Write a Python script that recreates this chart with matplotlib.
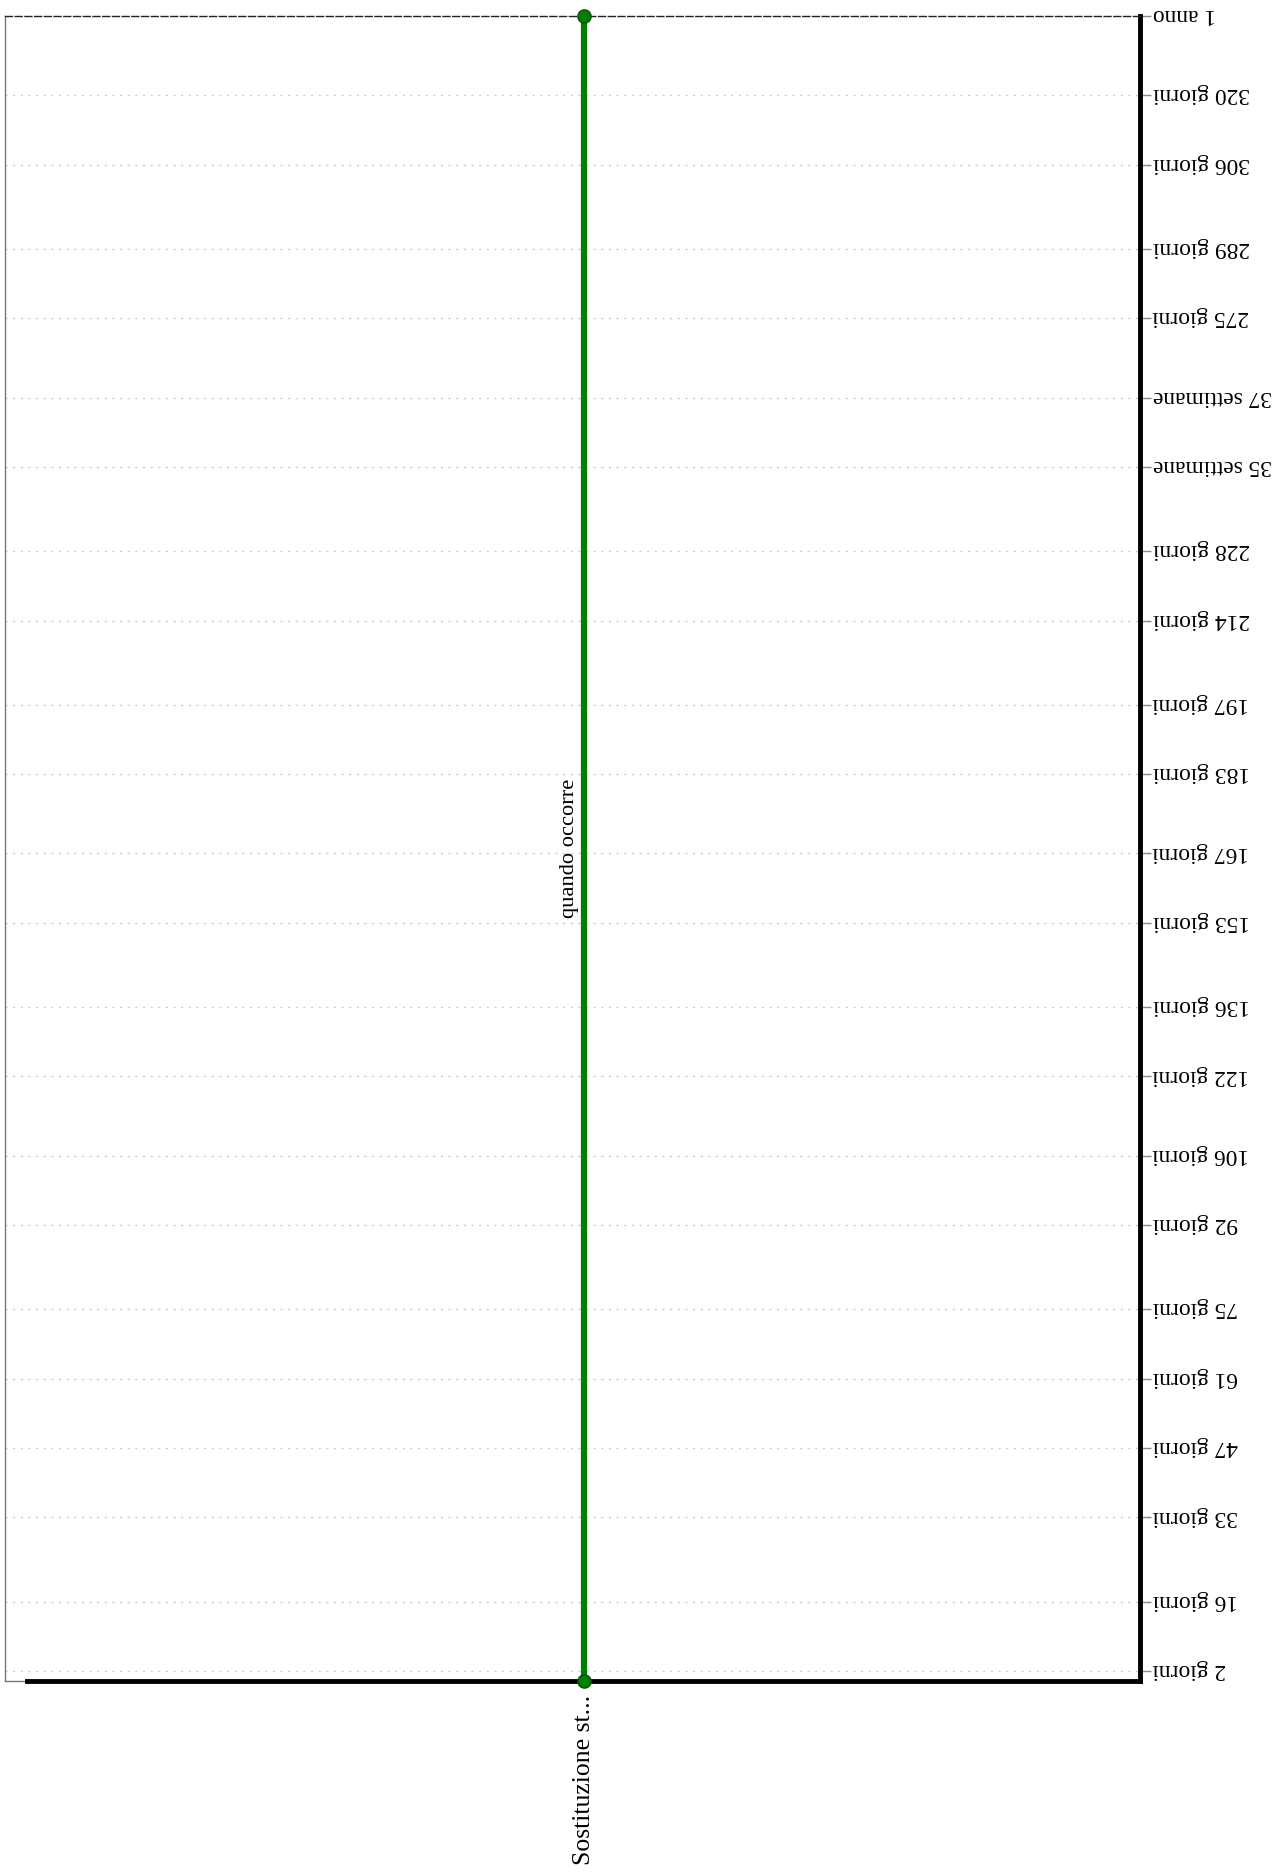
import matplotlib
matplotlib.use("Agg")
import matplotlib.pyplot as plt
import matplotlib.transforms as mtransforms

# -----------------------------
# DATA
# -----------------------------
categories = ["Sostituzione st..."]
start_days = [0]
end_days = [336]
bar_labels = ["quando occorre"]

tick_days = [2, 16, 33, 47, 61, 75, 92, 106, 122, 136, 153, 167, 183, 197,
             214, 228, 245, 259, 275, 289, 306, 320, 336]
tick_labels = ["2 giorni", "16 giorni", "33 giorni", "47 giorni", "61 giorni",
               "75 giorni", "92 giorni", "106 giorni", "122 giorni", "136 giorni",
               "153 giorni", "167 giorni", "183 giorni", "197 giorni", "214 giorni",
               "228 giorni", "35 settimane", "37 settimane", "275 giorni",
               "289 giorni", "306 giorni", "320 giorni", "1 anno"]
# -----------------------------

plt.rcParams['font.family'] = ['Liberation Serif', 'DejaVu Serif']

W, H = 1283, 1872
fig = plt.figure(figsize=(W / 100, H / 100), dpi=100)
ax = fig.add_axes([5 / W, (H - 1681) / H, (1140 - 5) / W, (1681 - 16) / H])

green = '#007f00'
for i, (cat, s, e, lab) in enumerate(zip(categories, start_days, end_days, bar_labels)):
    ax.plot([i, i], [s, e], color=green, lw=4.5, solid_capstyle='butt', zorder=4)
    ax.plot([i, i], [s, e], 'o', color=green, markeredgecolor='#0b4d0b',
            markersize=9.5, zorder=6, clip_on=False)
    ax.text(i - 0.004, (s + e) / 2, lab, rotation=90, ha='right', va='center',
            fontsize=16.2, zorder=5)

ax.set_xlim(-0.51, 0.49)
ax.set_ylim(0, 336)

ax.set_xticks(range(len(categories)))
ax.set_xticklabels(categories, rotation=90, fontsize=18.5, va='top')
ax.tick_params(axis='x', length=0, pad=10)

ax.yaxis.tick_right()
ax.set_yticks(tick_days)
ax.set_yticklabels(tick_labels, rotation=180, fontsize=16.8, va='center')
ax.tick_params(axis='y', length=8, color='#888888', width=1, pad=1)
shift = mtransforms.ScaledTranslation(0, 1 / 72, fig.dpi_scale_trans)
for t in ax.get_yticklabels():
    t.set_transform(t.get_transform() + shift)

# grid lines, except the top one which is the dashed border
for d in tick_days[:-1]:
    ax.axhline(d, color='#cccccc', lw=1, linestyle=(0, (1.5, 4)), zorder=1)

for side in ['left', 'bottom']:
    ax.spines[side].set_color('#777777')
    ax.spines[side].set_linewidth(1)
ax.spines['top'].set_color('#222222')
ax.spines['top'].set_linewidth(1)
ax.spines['top'].set_linestyle((0, (5, 2)))
ax.spines['right'].set_color('black')
ax.spines['right'].set_linewidth(3.5)
ax.axhline(0, xmin=0.019, xmax=1, color='black', lw=3.5, zorder=3, clip_on=False)

fig.savefig('out.png', dpi=100)
